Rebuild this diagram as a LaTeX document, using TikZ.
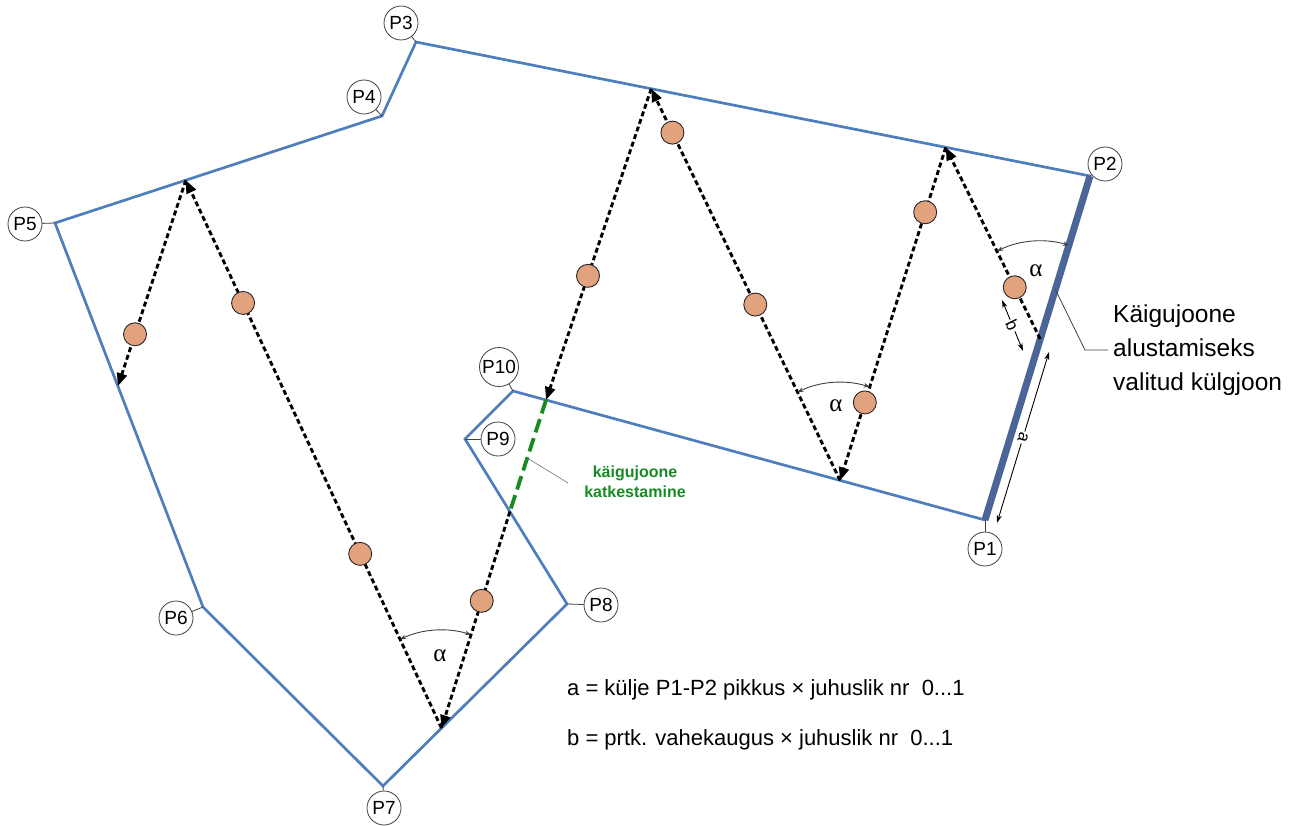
\documentclass[tikz,border=0pt]{standalone}
\usepackage{fontspec}
\setmainfont{Liberation Sans}
\newfontfamily\greekfont{Liberation Serif}
\usetikzlibrary{arrows.meta,calc}

\definecolor{edgeblue}{RGB}{79,126,189}
\definecolor{baseblue}{RGB}{76,101,152}
\definecolor{dotfill}{RGB}{226,162,126}
\definecolor{cutgreen}{RGB}{24,138,36}

\begin{document}
\begin{tikzpicture}[x=1pt,y=-1pt,
  edge/.style={edgeblue, line width=2.7pt, line join=miter},
  baseedge/.style={baseblue, line width=7pt},
  walk/.style={black, line width=2.9pt, dash pattern=on 5pt off 3pt,
    -{Triangle[length=13pt,width=10pt]}},
  cut/.style={cutgreen, line width=3.8pt, dash pattern=on 14pt off 6pt},
  dot/.style={circle, draw=black!85, line width=0.9pt, fill=dotfill,
    minimum size=23pt, inner sep=0pt},
  vlabel/.style={circle, draw=black!75, line width=0.8pt, fill=white,
    minimum size=34pt, inner sep=1pt, font=\fontsize{19}{19}\selectfont,
    text height=13.8pt, text depth=0pt},
  leader/.style={black!75, line width=0.8pt},
  thinleader/.style={black!55, line width=0.6pt},
  anglemark/.style={black!75, line width=0.9pt,
    {Stealth[length=6pt,width=4.5pt]}-{Stealth[length=6pt,width=4.5pt]}},
  dimline/.style={black, line width=0.9pt,
    {Stealth[length=8pt,width=5pt]}-{Stealth[length=8pt,width=5pt]}},
  dimlabel/.style={fill=white, inner sep=1.5pt, font=\fontsize{17}{17}\selectfont},
  alphalabel/.style={font=\greekfont\fontsize{25}{25}\selectfont}
]
\useasboundingbox (0,0) rectangle (1306,826);

% polygon corners
\coordinate (v1) at (985,520);
\coordinate (v2) at (1090,176);
\coordinate (v3) at (416,42);
\coordinate (v4) at (382,116);
\coordinate (v5) at (55,223);
\coordinate (v6) at (203,607);
\coordinate (v7) at (383,786);
\coordinate (v8) at (567,604);
\coordinate (v9) at (465,439);
\coordinate (v10) at (513,391);

% turning points of the walking line on the boundary
\coordinate (S)  at ($(v1)!0.526!(v2)$);
\coordinate (T1) at ($(v3)!0.786!(v2)$);
\coordinate (B1) at ($(v10)!0.693!(v1)$);
\coordinate (T2) at ($(v3)!0.349!(v2)$);
\coordinate (B2) at ($(v10)!0.07!(v1)$);
\coordinate (G)  at ($(v9)!0.44!(v8)$);
\coordinate (B3) at ($(v7)!0.318!(v8)$);
\coordinate (T3) at ($(v5)!0.4!(v4)$);
\coordinate (B4) at ($(v5)!0.425!(v6)$);

% boundary
\draw[edge] (v1) -- (v10) -- (v9) -- (v8) -- (v7) -- (v6) -- (v5) -- (v4) -- (v3) -- (v2);
\draw[baseedge] (v1) -- (v2);

% walking line
\draw[walk] (S) -- (T1);
\draw[walk] (T1) -- (B1);
\draw[walk] (B1) -- (T2);
\draw[walk] (T2) -- (B2);
\draw[cut] (B2) -- (G);
\draw[walk] (G) -- (B3);
\draw[walk] (B3) -- (T3);
\draw[walk] (T3) -- (B4);

% sample points
\node[dot] (c1) at ($(S)!0.27!(T1)$) {};
\node[dot] (c2) at ($(T1)!0.195!(B1)$) {};
\node[dot] (c3) at ($(T1)!0.766!(B1)$) {};
\node[dot] (c4) at ($(B1)!0.449!(T2)$) {};
\node[dot] (c5) at ($(B1)!0.888!(T2)$) {};
\node[dot] (c6) at ($(T2)!0.601!(B2)$) {};
\node[dot] (c7) at ($(G)!0.412!(B3)$) {};
\node[dot] (c8) at ($(B3)!0.318!(T3)$) {};
\node[dot] (c9) at ($(B3)!0.776!(T3)$) {};
\node[dot] (c10) at ($(T3)!0.748!(B4)$) {};

% angles between walking line and boundary
\draw[anglemark] (S) ++(-116.1:98) arc[start angle=-116.1, end angle=-73.0, radius=98];
\draw[anglemark] (B1) ++(-115.75:98) arc[start angle=-115.75, end angle=-72.4, radius=98];
\draw[anglemark] (B3) ++(-115.0:98) arc[start angle=-115.0, end angle=-72.5, radius=98];
\node[alphalabel] (al1) at (1036,271) {α};
\node[alphalabel] (al2) at (836,406) {α};
\node[alphalabel] (al3) at (440,656) {α};

% dimension a along the base side
\coordinate (a1) at (997,523);
\coordinate (a2) at (1049,352);
\draw[dimline] (a1) -- (a2);
\node[dimlabel, rotate=-107] (alab) at ($(a1)!0.5!(a2)$) {a};

% dimension b from the base side to the first point
\coordinate (b1) at (1002,300);
\coordinate (b2) at (1023,351);
\draw[dimline] (b1) -- (b2);
\node[dimlabel, rotate=-64] (blab) at ($(b1)!0.5!(b2)$) {b};

% corner labels
\node[vlabel] (p1) at (985,549) {P1};
\node[vlabel] (p2) at (1105,164) {P2};
\node[vlabel] (p3) at (401,23) {P3};
\node[vlabel] (p4) at (364,97) {P4};
\node[vlabel] (p5) at (25,224) {P5};
\node[vlabel] (p6) at (176,618) {P6};
\node[vlabel] (p7) at (384,808) {P7};
\node[vlabel] (p8) at (601,605) {P8};
\node[vlabel] (p9) at (498,439) {P9};
\node[vlabel] (p10) at (499,367) {P10};
\foreach \i in {1,...,10} {
  \draw[leader] (v\i) -- (p\i);
}

% note on the chosen base side
\node[anchor=west, align=left, inner xsep=5pt, inner ysep=0pt,
  font=\fontsize{24.5}{34}\selectfont] (note) at (1108,350)
  {Käigujoone\\alustamiseks\\valitud külgjoon};
\coordinate (k1) at ($(v1)!0.67!(v2)$);
\coordinate (k2) at (1085,350);
\draw[leader] (k1) -- (k2) -- (note.west);

% note on the interrupted walking line
\node[align=center, text=cutgreen, font=\bfseries\fontsize{16}{20}\selectfont]
  (cutnote) at (635,482) {käigujoone\\katkestamine};
\coordinate (cn) at (568,483);
\draw[thinleader] ($(B2)!0.52!(G)$) -- (cn);

% formulas
\node[anchor=west, inner sep=0pt, font=\fontsize{22}{22}\selectfont] (fa) at (567,690)
  {a = külje P1-P2 pikkus × juhuslik nr~~0...1};
\node[anchor=west, inner sep=0pt, font=\fontsize{22}{22}\selectfont] (fb) at (567,740)
  {b = prtk. vahekaugus × juhuslik nr~~0...1};
\end{tikzpicture}
\end{document}
